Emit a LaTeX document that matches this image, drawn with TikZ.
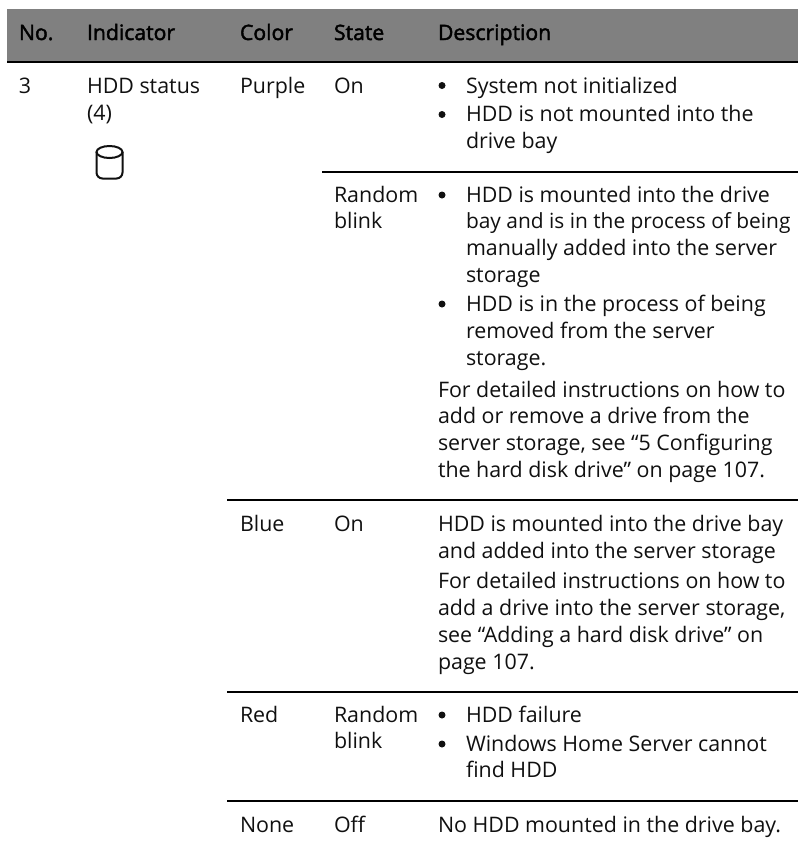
\documentclass[tikz,border=0pt]{standalone}
\usepackage{fontspec}
\setmainfont{Open Sans}
\newfontfamily\headface[FakeBold=2]{Open Sans}
\definecolor{band}{HTML}{808080}
\definecolor{ink}{HTML}{101010}
\tikzset{
 x=1pt,y=-1pt,
 cell/.style={anchor=base west,inner sep=0pt,outer sep=0pt,text=ink,font=\fontsize{21.4}{27}\selectfont},
 tightcell/.style={cell,font=\fontsize{20.9}{27}\selectfont},
 head/.style={anchor=base west,inner sep=0pt,outer sep=0pt,text=black,font=\fontsize{21.2}{27}\headface},
 bul/.style={circle,fill=ink,inner sep=0pt,minimum size=7pt},
 rule/.style={line width=2pt,black},
 icon/.style={line width=2pt,ink}
}
\begin{document}
\begin{tikzpicture}
\useasboundingbox (0,0) rectangle (798,847);
\fill[band] (7,9) rectangle (798,61);
\draw[rule] (7,62) -- (798,62);
\draw[rule] (322,172) -- (798,172);
\draw[rule] (227,500) -- (798,500);
\draw[rule] (227,692) -- (798,692);
\draw[rule] (227,801) -- (798,801);
\node[head] (h1) at (19,40) {No.};
\node[head] (h2) at (87,40) {Indicator};
\node[head] (h3) at (240,40) {Color};
\node[head] (h4) at (334,40) {State};
\node[head] (h5) at (438,40) {Description};
\node[cell] (n3) at (19,93) {3};
\node[cell] (i1) at (87,93) {HDD status};
\node[cell] (i2) at (87,120) {(4)};
\draw[icon,rounded corners=6pt] (96.5,152) -- (96.5,178.5) -- (122.5,178.5) -- (122.5,152);
\draw[icon] (109.5,152) ellipse (13 and 6);
\node[cell] (c1) at (240,93) {Purple};
\node[cell] (s1) at (334,93) {On};
\node[bul] (b1) at (442,85.5) {};
\node[cell] (d1) at (466,93) {System not initialized};
\node[bul] (b2) at (442,114.5) {};
\node[cell] (d2) at (466,121) {HDD is not mounted into the};
\node[cell] (d3) at (466,148) {drive bay};
\node[cell] (s2) at (334,202) {Random};
\node[cell] (s2b) at (334,228) {blink};
\node[bul] (b3) at (442,195) {};
\node[cell] (d4) at (466,202) {HDD is mounted into the drive};
\node[tightcell] (d5) at (466,228) {bay and is in the process of being};
\node[cell] (d6) at (466,255) {manually added into the server};
\node[cell] (d7) at (466,282) {storage};
\node[bul] (b4) at (442,304) {};
\node[cell] (d8) at (466,311) {HDD is in the process of being};
\node[cell] (d9) at (466,338) {removed from the server};
\node[cell] (d10) at (466,365) {storage.};
\node[cell] (d11) at (438,397) {For detailed instructions on how to};
\node[cell] (d12) at (438,423) {add or remove a drive from the};
\node[cell] (d13) at (438,450) {server storage, see “5 Configuring};
\node[cell] (d14) at (438,477) {the hard disk drive” on page 107.};
\node[cell] (c2) at (240,531) {Blue};
\node[cell] (s3) at (334,531) {On};
\node[cell] (d15) at (438,531) {HDD is mounted into the drive bay};
\node[cell] (d16) at (438,558) {and added into the server storage};
\node[cell] (d17) at (438,588) {For detailed instructions on how to};
\node[cell] (d18) at (438,615) {add a drive into the server storage,};
\node[cell] (d19) at (438,642) {see “Adding a hard disk drive” on};
\node[cell] (d20) at (438,669) {page 107.};
\node[cell] (c3) at (240,722) {Red};
\node[cell] (s4) at (334,722) {Random};
\node[cell] (s4b) at (334,748) {blink};
\node[bul] (b5) at (442,715) {};
\node[cell] (d21) at (466,722) {HDD failure};
\node[bul] (b6) at (442,744) {};
\node[cell] (d22) at (466,751) {Windows Home Server cannot};
\node[cell] (d23) at (466,777) {find HDD};
\node[cell] (c4) at (240,832) {None};
\node[cell] (s5) at (334,832) {Off};
\node[cell] (d24) at (438,832) {No HDD mounted in the drive bay.};
\end{tikzpicture}
\end{document}
